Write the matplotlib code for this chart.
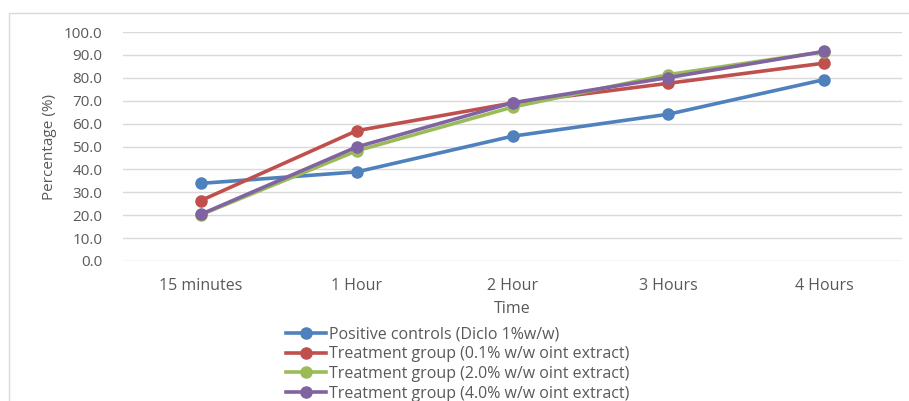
import matplotlib
matplotlib.use("Agg")
import matplotlib.pyplot as plt
from matplotlib.patches import Rectangle

times = ["15 minutes", "1 Hour", "2 Hour", "3 Hours", "4 Hours"]
positive_ctrl = [33.9, 38.9, 54.5, 64.1, 79.2]
treat_01 = [26.4, 56.9, 69.0, 77.6, 86.4]
treat_20 = [20.2, 48.1, 67.2, 81.4, 91.4]
treat_40 = [20.4, 49.8, 69.1, 80.1, 91.5]

labels = ["Positive controls (Diclo 1%w/w)",
          "Treatment group (0.1% w/w oint extract)",
          "Treatment group (2.0% w/w oint extract)",
          "Treatment group (4.0% w/w oint extract)"]
colors = ["#4f81bd", "#c0504d", "#9bbb59", "#8064a2"]

plt.rcParams["font.family"] = ["Open Sans", "DejaVu Sans"]
txt = "#595959"

fig = plt.figure(figsize=(9.09, 4.01), dpi=100)
ax = fig.add_axes([123 / 909, 140 / 401, 779 / 909, 229 / 401])

x = range(len(times))
for ys, c, lab in zip([positive_ctrl, treat_01, treat_20, treat_40], colors, labels):
    ax.plot(x, ys, color=c, lw=2.6, marker="o", markersize=8, label=lab)

ax.set_xlim(-0.5, len(times) - 0.5)
ax.set_ylim(0, 100)
ax.set_yticks(range(0, 101, 10))
ax.set_yticklabels([f"{v:.1f}" for v in range(0, 101, 10)])
ax.set_xticks(list(x))
ax.set_xticklabels(times)
ax.grid(axis="y", color="#d9d9d9", lw=1)
ax.set_axisbelow(True)
for s in ax.spines.values():
    s.set_visible(False)
ax.tick_params(length=0, colors=txt)
ax.tick_params(axis="y", pad=15, labelsize=11)
ax.tick_params(axis="x", pad=12, labelsize=11.5)
ax.set_ylabel("Percentage (%)", color=txt, fontsize=11, labelpad=5)
ax.set_xlabel("Time", color=txt, fontsize=11.5, labelpad=5)

leg = fig.legend(loc="upper left", bbox_to_anchor=(278 / 909, 1 - 319 / 401),
                 frameon=False, fontsize=11.5, handlelength=2.5,
                 handletextpad=0.2, labelspacing=0.22, borderpad=0)
for t in leg.get_texts():
    t.set_color(txt)

fig.patches.append(Rectangle((9 / 909, -0.1), 1.2, 1 - 13 / 401 + 0.1,
                             transform=fig.transFigure, fill=False,
                             edgecolor="#d9d9d9", lw=1))

fig.savefig("out.png", dpi=100)
